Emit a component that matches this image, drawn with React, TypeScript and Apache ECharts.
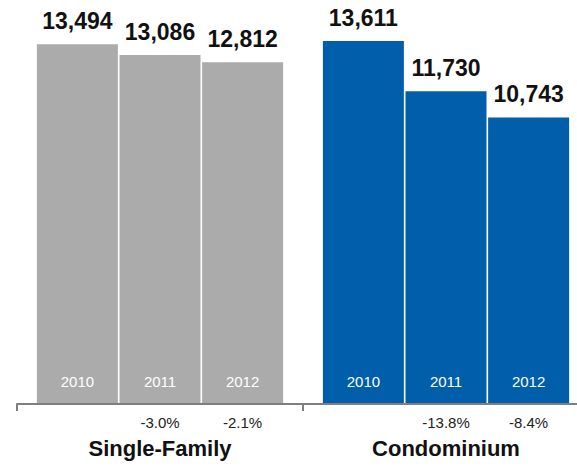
import React, { useEffect, useRef } from "react";
import * as echarts from "echarts";

const groups = ["Single-Family", "Condominium"];
const years = ["2010", "2011", "2012"];
const singleFamily = [13494, 13086, 12812];
const condominium = [13611, 11730, 10743];
const sfChange = ["", "-3.0%", "-2.1%"];
const condoChange = ["", "-13.8%", "-8.4%"];
const groupColors = ["#ABABAB", "#005EAA"];

const FONT = "Helvetica, Arial, 'Liberation Sans', sans-serif";

export default function App() {
  const ref = useRef<HTMLDivElement>(null);
  useEffect(() => {
    if (!ref.current) return;
    const chart = echarts.init(ref.current, null, { renderer: "svg" });
    const common = { barWidth: 81, barGap: "2%" };
    const series: any[] = [];
    years.forEach((yr, i) => {
      const data = [
        { value: singleFamily[i], itemStyle: { color: groupColors[0] } },
        { value: condominium[i], itemStyle: { color: groupColors[1] } },
      ];
      series.push({
        type: "bar",
        name: yr,
        xAxisIndex: 0,
        ...common,
        data,
        label: {
          show: true,
          position: "top",
          distance: 12,
          fontSize: 23,
          fontWeight: "bold",
          fontFamily: FONT,
          color: "#111",
          formatter: (p: any) => Number(p.value).toLocaleString("en-US"),
        },
      });
      series.push({
        type: "bar",
        name: yr + "-year",
        xAxisIndex: 1,
        ...common,
        data: [singleFamily[i], condominium[i]],
        itemStyle: { color: "rgba(0,0,0,0)" },
        silent: true,
        label: {
          show: true,
          position: "insideBottom",
          distance: 15,
          fontSize: 15,
          fontFamily: FONT,
          color: "#fff",
          formatter: () => yr,
        },
      });
      series.push({
        type: "bar",
        name: yr + "-chg",
        xAxisIndex: 2,
        ...common,
        data: [singleFamily[i], condominium[i]],
        itemStyle: { color: "rgba(0,0,0,0)" },
        silent: true,
        label: {
          show: true,
          position: "bottom",
          distance: 11,
          fontSize: 15,
          fontFamily: FONT,
          color: "#222",
          formatter: (p: any) => (p.dataIndex === 0 ? sfChange[i] : condoChange[i]),
        },
      });
    });
    const hiddenX = {
      type: "category",
      data: groups,
      show: false,
    };
    chart.setOption({
      animation: false,
      grid: {
        left: 17,
        width: 572,
        top: 4,
        bottom: 62,
        containLabel: false,
        outerBoundsMode: "none",
      },
      xAxis: [
        {
          type: "category",
          data: groups,
          axisLine: { show: true, lineStyle: { color: "#7F7F7F", width: 2 } },
          axisTick: { show: true, length: 7, lineStyle: { color: "#7F7F7F", width: 2 } },
          axisLabel: {
            margin: 33,
            fontSize: 22,
            fontWeight: "bold",
            fontFamily: FONT,
            color: "#111",
          },
          z: 10,
        },
        hiddenX,
        hiddenX,
      ],
      yAxis: { type: "value", min: 0, max: 15000, show: false },
      series,
    });
    return () => chart.dispose();
  }, []);
  return (
    <div
      ref={ref}
      style={{ position: "fixed", left: 0, top: 0, width: 577, height: 466, background: "#fff" }}
    />
  );
}
